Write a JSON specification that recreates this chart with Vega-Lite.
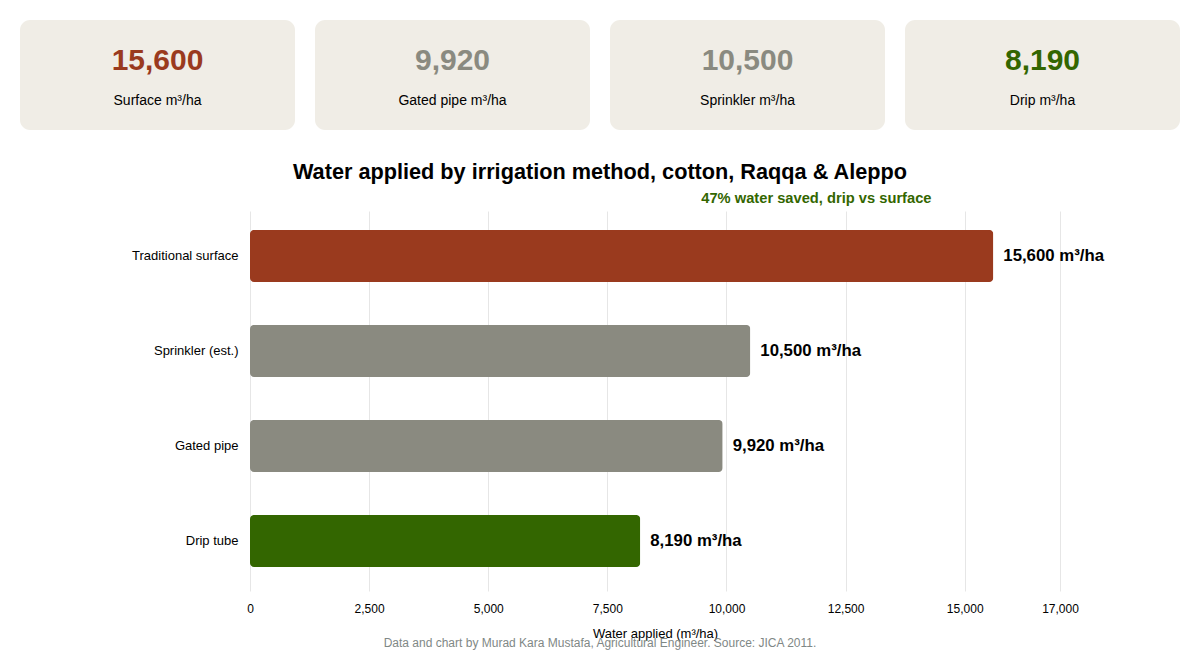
{
  "$schema": "https://vega.github.io/schema/vega-lite/v6.json",
  "background": "white",
  "padding": {"left": 20, "top": 20, "right": 20, "bottom": 10},
  "config": {"font": "Liberation Sans", "view": {"stroke": null}},
  "title": {
    "text": "Data and chart by Murad Kara Mustafa, Agricultural Engineer. Source: JICA 2011.",
    "orient": "bottom", "anchor": "middle", "frame": "bounds",
    "fontSize": 12, "fontWeight": "normal", "color": "#7f8886", "offset": -2
  },
  "spacing": 32,
  "vconcat": [
    {
      "data": {"values": [
        {"card": "Surface m³/ha", "amount": 15600, "tone": "surface"},
        {"card": "Gated pipe m³/ha", "amount": 9920, "tone": "neutral"},
        {"card": "Sprinkler m³/ha", "amount": 10500, "tone": "neutral"},
        {"card": "Drip m³/ha", "amount": 8190, "tone": "drip"}
      ]},
      "facet": {"column": {"field": "card", "type": "nominal",
        "sort": ["Surface m³/ha", "Gated pipe m³/ha", "Sprinkler m³/ha", "Drip m³/ha"],
        "header": {"title": null, "labels": false}}},
      "spacing": 20,
      "spec": {
        "width": 275, "height": 110,
        "view": {"fill": "#f0ede6", "cornerRadius": 10, "stroke": null},
        "layer": [
          {
            "mark": {"type": "text", "fontSize": 30, "fontWeight": "bold", "baseline": "middle", "dy": -14},
            "encoding": {
              "text": {"field": "amount", "type": "quantitative", "format": ","},
              "color": {"field": "tone", "type": "nominal",
                "scale": {"domain": ["surface", "neutral", "drip"], "range": ["#9a3a1e", "#8a8a80", "#336600"]},
                "legend": null}
            }
          },
          {
            "mark": {"type": "text", "fontSize": 14, "baseline": "middle", "dy": 26, "color": "black"},
            "encoding": {"text": {"field": "card", "type": "nominal"}}
          }
        ]
      }
    },
    {
      "data": {"values": [
        {"method": "Traditional surface", "water": 15600, "tone": "surface", "label": "15,600 m³/ha"},
        {"method": "Sprinkler (est.)", "water": 10500, "tone": "neutral", "label": "10,500 m³/ha"},
        {"method": "Gated pipe", "water": 9920, "tone": "neutral", "label": "9,920 m³/ha"},
        {"method": "Drip tube", "water": 8190, "tone": "drip", "label": "8,190 m³/ha"}
      ]},
      "width": 1040,
      "height": 380,
      "title": {
        "text": "Water applied by irrigation method, cotton, Raqqa & Aleppo",
        "fontSize": 21.7, "fontWeight": "bold", "anchor": "middle", "dx": 60, "offset": 6, "color": "black"
      },
      "encoding": {
        "y": {
          "field": "method", "type": "nominal", "sort": null,
          "scale": {"paddingInner": 0.453, "paddingOuter": 0.226, "align": 0.44},
          "axis": {"title": null, "ticks": false, "domain": false, "labelFontSize": 13, "labelPadding": 12,
            "labelColor": "black", "offset": -230, "labelLimit": 300}
        }
      },
      "layer": [
        {
          "mark": {"type": "bar", "cornerRadius": 4},
          "encoding": {
            "x": {
              "field": "water", "type": "quantitative",
              "scale": {"domain": [0, 17000], "nice": false, "range": [230, 1040]},
              "axis": {
                "values": [0, 2500, 5000, 7500, 10000, 12500, 15000, 17000], "format": ",.0f",
                "ticks": false, "domain": false, "gridColor": "#e6e6e6", "labelFlush": false,
                "labelFontSize": 12, "labelColor": "black", "labelPadding": 12,
                "title": "Water applied (m³/ha)", "titleFontSize": 13, "titleFontWeight": "normal",
                "titleColor": "black", "titlePadding": 13, "titleX": 635
              }
            },
            "color": {"field": "tone", "type": "nominal", "legend": null}
          }
        },
        {
          "mark": {"type": "text", "align": "left", "baseline": "middle", "dx": 10, "fontSize": 16.8, "fontWeight": "bold", "color": "black"},
          "encoding": {
            "x": {
              "field": "water", "type": "quantitative",
              "axis": {
                "orient": "top", "labels": false, "ticks": false, "domain": false, "grid": false,
                "title": "47% water saved, drip vs surface", "titleColor": "#336600",
                "titleFontSize": 14.7, "titleFontWeight": "bold", "titleX": 911, "titleAlign": "right",
                "titlePadding": 6
              }
            },
            "text": {"field": "label", "type": "nominal"}
          }
        }
      ],
      "resolve": {"axis": {"x": "independent"}}
    }
  ]
}
